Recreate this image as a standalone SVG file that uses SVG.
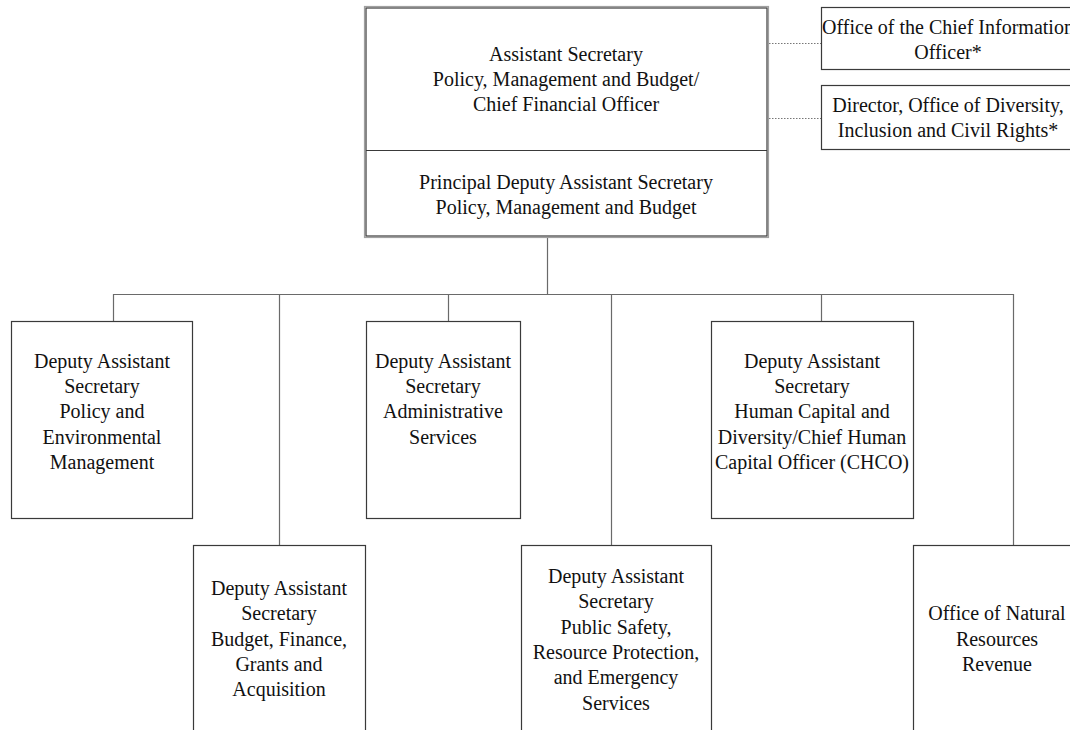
<svg xmlns="http://www.w3.org/2000/svg" width="1070" height="730" viewBox="0 0 1070 730">
<style>
  .box { fill: #fff; stroke: #3a3a3a; stroke-width: 1.2; }
  .outer { fill: none; stroke: #a0a0a0; stroke-width: 1.2; }
  .conn { fill: none; stroke: #6a6a6a; stroke-width: 1.2; }
  .dot { fill: none; stroke: #777; stroke-width: 1; stroke-dasharray: 1.5 1.5; }
  text { font-family: "Liberation Serif", "Times New Roman", serif; font-size: 20px; fill: #111; text-anchor: middle; }
</style>
<rect width="1070" height="730" fill="#fff"/>
<g id="connectors">
  <line class="conn" x1="547.5" y1="237" x2="547.5" y2="294.5"/>
  <line class="conn" x1="113" y1="294.5" x2="1013.5" y2="294.5"/>
  <line class="conn" x1="113.5" y1="294" x2="113.5" y2="321"/>
  <line class="conn" x1="279.5" y1="294" x2="279.5" y2="546"/>
  <line class="conn" x1="448.5" y1="294" x2="448.5" y2="321"/>
  <line class="conn" x1="611.5" y1="294" x2="611.5" y2="546"/>
  <line class="conn" x1="821.5" y1="294" x2="821.5" y2="321"/>
  <line class="conn" x1="1013.5" y1="294" x2="1013.5" y2="546"/>
  <line class="dot" x1="769" y1="43.5" x2="821" y2="43.5"/>
  <line class="dot" x1="769" y1="118.5" x2="821" y2="118.5"/>
</g>
<g id="top">
  <rect class="outer" x="364.5" y="6.5" width="404" height="231"/>
  <rect class="box" x="366" y="8" width="401" height="228"/>
  <line class="box" x1="366" y1="150.5" x2="767" y2="150.5"/>
  <text x="566" y="61">Assistant Secretary</text>
  <text x="566" y="86">Policy, Management and Budget/</text>
  <text x="566" y="111">Chief Financial Officer</text>
  <text x="566" y="189">Principal Deputy Assistant Secretary</text>
  <text x="566" y="214">Policy, Management and Budget</text>
</g>
<g id="cio">
  <rect class="box" x="821.5" y="7.5" width="260" height="62"/>
  <text x="948" y="34">Office of the Chief Information</text>
  <text x="948" y="59">Officer*</text>
</g>
<g id="odicr">
  <rect class="box" x="821.5" y="85.5" width="260" height="64"/>
  <text x="948" y="112">Director, Office of Diversity,</text>
  <text x="948" y="137">Inclusion and Civil Rights*</text>
</g>
<g id="pem">
  <rect class="box" x="11.5" y="321.5" width="181" height="197"/>
  <text x="102" y="368">Deputy Assistant</text>
  <text x="102" y="393">Secretary</text>
  <text x="102" y="418">Policy and</text>
  <text x="102" y="444">Environmental</text>
  <text x="102" y="469">Management</text>
</g>
<g id="as">
  <rect class="box" x="366.5" y="321.5" width="154" height="197"/>
  <text x="443" y="368">Deputy Assistant</text>
  <text x="443" y="393">Secretary</text>
  <text x="443" y="418">Administrative</text>
  <text x="443" y="444">Services</text>
</g>
<g id="hc">
  <rect class="box" x="711.5" y="321.5" width="202" height="197"/>
  <text x="812" y="368">Deputy Assistant</text>
  <text x="812" y="393">Secretary</text>
  <text x="812" y="418">Human Capital and</text>
  <text x="812" y="444">Diversity/Chief Human</text>
  <text x="812" y="469">Capital Officer (CHCO)</text>
</g>
<g id="bfga">
  <rect class="box" x="193.5" y="545.5" width="172" height="200"/>
  <text x="279" y="595">Deputy Assistant</text>
  <text x="279" y="620">Secretary</text>
  <text x="279" y="646">Budget, Finance,</text>
  <text x="279" y="671">Grants and</text>
  <text x="279" y="696">Acquisition</text>
</g>
<g id="psrpes">
  <rect class="box" x="521.5" y="545.5" width="190" height="200"/>
  <text x="616" y="583">Deputy Assistant</text>
  <text x="616" y="608">Secretary</text>
  <text x="616" y="634">Public Safety,</text>
  <text x="616" y="659">Resource Protection,</text>
  <text x="616" y="684">and Emergency</text>
  <text x="616" y="710">Services</text>
</g>
<g id="onrr">
  <rect class="box" x="913.5" y="545.5" width="170" height="200"/>
  <text x="997" y="620">Office of Natural</text>
  <text x="997" y="646">Resources</text>
  <text x="997" y="671">Revenue</text>
</g>
</svg>
